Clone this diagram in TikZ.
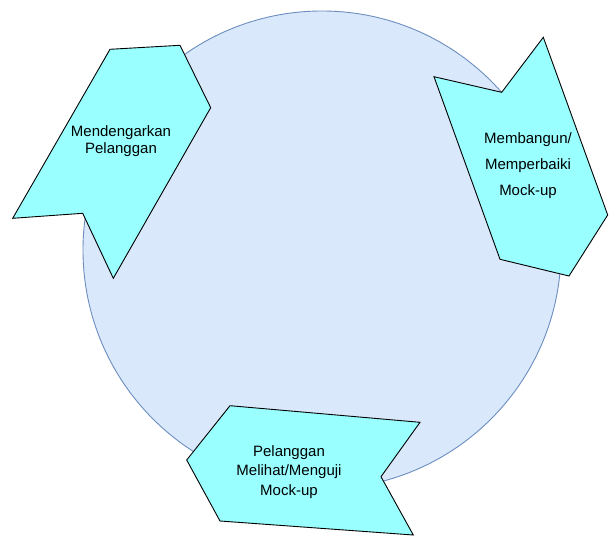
\documentclass[tikz,border=0pt]{standalone}
\usepackage{fontspec}
\setmainfont{Liberation Sans}
\usetikzlibrary{positioning}
\definecolor{CycleFill}{HTML}{DAE8FC}
\definecolor{CycleLine}{HTML}{6C8EBF}
\definecolor{ArmFill}{HTML}{99FFFF}

\begin{document}
\begin{tikzpicture}[x=1pt,y=-1pt,
  arm/.style={draw=black,fill=ArmFill,line width=0.9pt,line join=miter},
  lbl/.style={align=center,inner sep=0pt,font=\fontsize{15}{#1}\selectfont}]
  \useasboundingbox (0,0) rectangle (609,537);
  \node[circle,draw=CycleLine,fill=CycleFill,line width=0.9pt,minimum size=478pt,inner sep=0pt] (cycle) at (322,250) {};
  % the three steps round the cycle
  \draw[arm] (110,49.3) -- (180,45.3) -- (210.7,107.7) -- (113.3,278.3) -- (82.7,213.3) -- (12.7,218.3) -- cycle;
  \draw[arm] (434,76.7) -- (501.7,92.3) -- (543.3,37.3) -- (607.7,215) -- (569,276) -- (500,259.3) -- cycle;
  \draw[arm] (230,405.7) -- (420,422.3) -- (381,476.7) -- (413.3,535) -- (220,521) -- (186.7,460) -- cycle;
  \node[lbl=17] (listen) at (121,141) {Mendengarkan\\Pelanggan};
  \node[lbl=26] (build) at (528,166) {Membangun/\\Memperbaiki\\Mock-up};
  \node[lbl=19.5] (test) at (289,472) {Pelanggan\\Melihat/Menguji\\Mock-up};
\end{tikzpicture}
\end{document}
